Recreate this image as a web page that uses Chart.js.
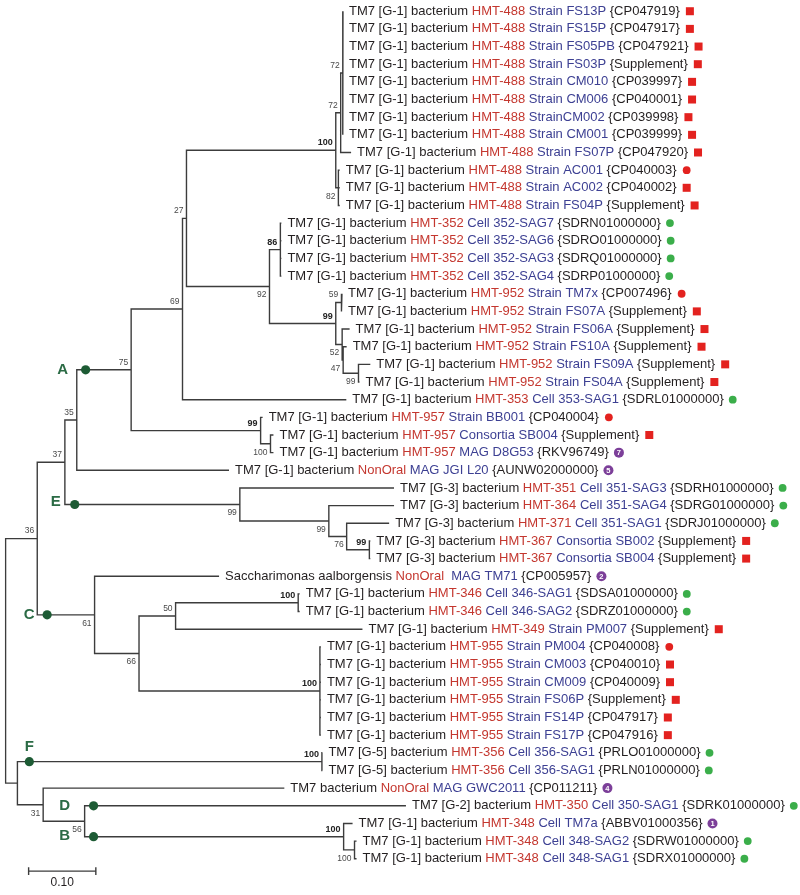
<!DOCTYPE html>
<html lang="en">
<head>
  <meta charset="UTF-8" />
  <title>TM7 phylogeny</title>
  <script src="https://cdn.jsdelivr.net/npm/chart.js"></script>
  <style>
    body { margin: 0; background: #fff; }
    #wrap { width: 800px; height: 895px; position: relative; }
  </style>
</head>
<body>
  <div id="wrap"><canvas id="tree"></canvas></div>

  <script>
    // ---- leaves (top to bottom) ----
    const G1 = 'TM7 [G-1] bacterium', G2 = 'TM7 [G-2] bacterium',
          G3 = 'TM7 [G-3] bacterium', G5 = 'TM7 [G-5] bacterium';

    const leafPrefix = [
      G1, G1, G1, G1, G1, G1, G1, G1, G1, G1, G1, G1,
      G1, G1, G1, G1,
      G1, G1, G1, G1, G1, G1,
      G1, G1, G1, G1, G1,
      G3, G3, G3, G3, G3,
      'Saccharimonas aalborgensis',
      G1, G1, G1,
      G1, G1, G1, G1, G1, G1,
      G5, G5,
      'TM7 bacterium', G2,
      G1, G1, G1
    ];
    const leafHmt = [
      'HMT-488', 'HMT-488', 'HMT-488', 'HMT-488', 'HMT-488', 'HMT-488', 'HMT-488', 'HMT-488', 'HMT-488', 'HMT-488', 'HMT-488', 'HMT-488',
      'HMT-352', 'HMT-352', 'HMT-352', 'HMT-352',
      'HMT-952', 'HMT-952', 'HMT-952', 'HMT-952', 'HMT-952', 'HMT-952',
      'HMT-353', 'HMT-957', 'HMT-957', 'HMT-957', 'NonOral',
      'HMT-351', 'HMT-364', 'HMT-371', 'HMT-367', 'HMT-367',
      'NonOral',
      'HMT-346', 'HMT-346', 'HMT-349',
      'HMT-955', 'HMT-955', 'HMT-955', 'HMT-955', 'HMT-955', 'HMT-955',
      'HMT-356', 'HMT-356',
      'NonOral', 'HMT-350',
      'HMT-348', 'HMT-348', 'HMT-348'
    ];
    const leafStrain = [
      'Strain FS13P', 'Strain FS15P', 'Strain FS05PB', 'Strain FS03P', 'Strain CM010', 'Strain CM006',
      'StrainCM002', 'Strain CM001', 'Strain FS07P', 'Strain AC001', 'Strain AC002', 'Strain FS04P',
      'Cell 352-SAG7', 'Cell 352-SAG6', 'Cell 352-SAG3', 'Cell 352-SAG4',
      'Strain TM7x', 'Strain FS07A', 'Strain FS06A', 'Strain FS10A', 'Strain FS09A', 'Strain FS04A',
      'Cell 353-SAG1', 'Strain BB001', 'Consortia SB004', 'MAG D8G53', 'MAG JGI L20',
      'Cell 351-SAG3', 'Cell 351-SAG4', 'Cell 351-SAG1', 'Consortia SB002', 'Consortia SB004',
      ' MAG TM71',
      'Cell 346-SAG1', 'Cell 346-SAG2', 'Strain PM007',
      'Strain PM004', 'Strain CM003', 'Strain CM009', 'Strain FS06P', 'Strain FS14P', 'Strain FS17P',
      'Cell 356-SAG1', 'Cell 356-SAG1',
      'MAG GWC2011', 'Cell 350-SAG1',
      'Cell TM7a', 'Cell 348-SAG2', 'Cell 348-SAG1'
    ];
    const leafAcc = [
      '{CP047919}', '{CP047917}', '{CP047921}', '{Supplement}', '{CP039997}', '{CP040001}',
      '{CP039998}', '{CP039999}', '{CP047920}', '{CP040003}', '{CP040002}', '{Supplement}',
      '{SDRN01000000}', '{SDRO01000000}', '{SDRQ01000000}', '{SDRP01000000}',
      '{CP007496}', '{Supplement}', '{Supplement}', '{Supplement}', '{Supplement}', '{Supplement}',
      '{SDRL01000000}', '{CP040004}', '{Supplement}', '{RKV96749}', '{AUNW02000000}',
      '{SDRH01000000}', '{SDRG01000000}', '{SDRJ01000000}', '{Supplement}', '{Supplement}',
      '{CP005957}',
      '{SDSA01000000}', '{SDRZ01000000}', '{Supplement}',
      '{CP040008}', '{CP040010}', '{CP040009}', '{Supplement}', '{CP047917}', '{CP047916}',
      '{PRLO01000000}', '{PRLN01000000}',
      '{CP011211}', '{SDRK01000000}',
      '{ABBV01000356}', '{SDRW01000000}', '{SDRX01000000}'
    ];
    // s = red square, r = red dot, g = green dot, digit = numbered purple dot
    const leafMark = [
      's', 's', 's', 's', 's', 's', 's', 's', 's', 'r', 's', 's',
      'g', 'g', 'g', 'g',
      'r', 's', 's', 's', 's', 's',
      'g', 'r', 's', '7', '5',
      'g', 'g', 'g', 's', 's',
      '2',
      'g', 'g', 's',
      'r', 's', 's', 's', 's', 's',
      'g', 'g',
      '4', 'g',
      '1', 'g', 'g'
    ];
    // distance from root to each tip
    const leafDepth = [
      0.5019, 0.5019, 0.5019, 0.5019, 0.5019, 0.5019, 0.5019, 0.5019, 0.5140, 0.4971, 0.4971, 0.4971,
      0.4103, 0.4103, 0.4103, 0.4103,
      0.5004, 0.5004, 0.5118, 0.5074, 0.5426, 0.5265,
      0.5069, 0.3824, 0.3985, 0.3985, 0.3324,
      0.5779, 0.5779, 0.5706, 0.5426, 0.5426,
      0.3176,
      0.4375, 0.4375, 0.5309,
      0.4691, 0.4691, 0.4691, 0.4691, 0.4691, 0.4691,
      0.4713, 0.4713,
      0.4147, 0.5956,
      0.5162, 0.5221, 0.5221
    ];

    // ---- internal nodes: id, depth, children (leaf index or node id), bootstrap ----
    const nodes = [
      ['root', 0.0000, ['n36', 'nF'], ''],
      ['n36', 0.0471, ['n37', 'nC'], '36'],
      ['n37', 0.0882, ['n35', 'nE'], '37'],
      ['n35', 0.1059, ['nA', 26], '35'],
      ['nA', 0.1868, ['n69', 'n957'], '75'],
      ['n69', 0.2632, ['n27', 22], '69'],
      ['n27', 0.2691, ['n488', 'n92'], '27'],
      ['n488', 0.4912, ['n72a', 'n82'], '100'],
      ['n72a', 0.4985, ['n72b', 8], '72'],
      ['n72b', 0.5015, [0, 1, 2, 3, 4, 5, 6, 7], '72'],
      ['n82', 0.4951, [9, 10, 11], '82'],
      ['n92', 0.3926, ['n86', 'n99b'], '92'],
      ['n86', 0.4088, [12, 13, 14, 15], '86'],
      ['n99b', 0.4912, ['n59', 'n52'], '99'],
      ['n59', 0.4993, [16, 17], '59'],
      ['n52', 0.5007, [18, 'n47'], '52'],
      ['n47', 0.5022, [19, 'n99c'], '47'],
      ['n99c', 0.5250, [20, 21], '99'],
      ['n957', 0.3794, [23, 'n100d'], '99'],
      ['n100d', 0.3941, [24, 25], '100'],
      ['nE', 0.3485, [27, 'n99e'], '99'],
      ['n99e', 0.4809, [28, 'n76'], '99'],
      ['n76', 0.5074, [29, 'n99f'], '76'],
      ['n99f', 0.5412, [30, 31], '99'],
      ['nC', 0.1324, [32, 'n66'], '61'],
      ['n66', 0.1985, ['n50', 'n955'], '66'],
      ['n50', 0.2529, ['n346', 35], '50'],
      ['n346', 0.4353, [33, 34], '100'],
      ['n955', 0.4676, [36, 37, 38, 39, 40, 41], '100'],
      ['nF', 0.0176, ['n356', 'n31'], ''],
      ['n356', 0.4706, [42, 43], '100'],
      ['n31', 0.0559, [44, 'n56'], '31'],
      ['n56', 0.1176, [45, 'n348'], '56'],
      ['n348', 0.5029, [46, 'n100s'], '100'],
      ['n100s', 0.5191, [47, 48], '100']
    ];
    const boldSupport = ['n488', 'n86', 'n99b', 'n957', 'n99f', 'n346', 'n955', 'n356', 'n348'];
    const supportBelow = ['n82', 'n92', 'n52', 'n47', 'n99c', 'n100d', 'nE', 'n99e', 'n76', 'nC', 'n66', 'n31', 'n56', 'n100s'];

    // ---- clade marks on branches ----
    const cladeName = ['A', 'E', 'C', 'F', 'D', 'B'];
    const cladeTarget = ['nA', 'nE', 'nC', 'n356', 45, 'n348'];
    const cladeDepth = [0.1191, 0.1029, 0.0618, 0.0353, 0.1309, 0.1309];
    const cladeLetterShift = [[-23, 0], [-19, -3], [-18, 0], [0, -15], [-29, 0], [-29, -1]];

    const scaleLength = 0.10;

    // ---- layout ----
    const ROW = 17.84, TOP = 6.7, PX_PER_UNIT = 680;
    const X_MIN = -1 / PX_PER_UNIT, X_MAX = 799 / PX_PER_UNIT;
    const Y_MIN = -TOP / ROW, Y_MAX = Y_MIN + 895 / ROW;
    const FONT = '"Liberation Sans", Arial, sans-serif';
    const INK = '#231f20', RED = '#c4372f', BLUE = '#3d4093', LINE = '#3c3c3c';

    const nodeMap = {};
    nodes.forEach(n => { nodeMap[n[0]] = { depth: n[1], kids: n[2], support: n[3] }; });

    function yOf(k) {
      if (typeof k === 'number') return k;
      const n = nodeMap[k];
      if (n.y === undefined) n.y = (yOf(n.kids[0]) + yOf(n.kids[n.kids.length - 1])) / 2;
      return n.y;
    }
    function depthOf(k) { return typeof k === 'number' ? leafDepth[k] : nodeMap[k].depth; }

    // branches as polylines split by null points
    const branchPts = [];
    nodes.forEach(([id, d, kids]) => {
      const first = kids[0], last = kids[kids.length - 1];
      branchPts.push({ x: depthOf(first), y: yOf(first) }, { x: d, y: yOf(first) },
                     { x: d, y: yOf(last) }, { x: depthOf(last), y: yOf(last) }, { x: d, y: null });
      kids.slice(1, -1).forEach(k => {
        branchPts.push({ x: d, y: yOf(k) }, { x: depthOf(k), y: yOf(k) }, { x: d, y: null });
      });
    });

    const cladePts = cladeName.map((c, i) => ({ x: cladeDepth[i], y: yOf(cladeTarget[i]) }));

    const barX = 23.3 / PX_PER_UNIT, barY = 48.7, tick = 0.22;
    const scalePts = [
      { x: barX, y: barY - tick }, { x: barX, y: barY + tick }, { x: barX, y: null },
      { x: barX, y: barY }, { x: barX + scaleLength, y: barY }, { x: barX, y: null },
      { x: barX + scaleLength, y: barY - tick }, { x: barX + scaleLength, y: barY + tick }
    ];

    function drawMark(ctx, m, x, y) {
      if (m === 's') {
        ctx.fillStyle = '#e3221f';
        ctx.fillRect(x + 6, y - 4, 8, 8);
      } else if (m === 'r' || m === 'g') {
        ctx.fillStyle = m === 'r' ? '#e3221f' : '#3bae4a';
        ctx.beginPath();
        ctx.arc(x + (m === 'r' ? 10 : 9), y, 3.9, 0, Math.PI * 2);
        ctx.fill();
      } else {
        ctx.fillStyle = '#7c3f99';
        ctx.beginPath();
        ctx.arc(x + 10, y, 5, 0, Math.PI * 2);
        ctx.fill();
        ctx.fillStyle = '#fff';
        ctx.font = 'bold 7.5px ' + FONT;
        ctx.textAlign = 'center';
        ctx.fillText(m, x + 10, y + 0.5);
        ctx.textAlign = 'left';
      }
    }

    const treeText = {
      id: 'treeText',
      afterDatasetsDraw(chart) {
        const { ctx, scales: { x, y } } = chart;
        ctx.save();
        ctx.textBaseline = 'middle';

        // tip labels
        leafPrefix.forEach((pre, i) => {
          let px = x.getPixelForValue(leafDepth[i]) + 6;
          const py = y.getPixelForValue(i);
          ctx.font = '13px ' + FONT;
          ctx.textAlign = 'left';
          [[pre + ' ', INK], [leafHmt[i] + ' ', RED], [leafStrain[i] + ' ', BLUE], [leafAcc[i], INK]].forEach(([t, c]) => {
            ctx.fillStyle = c;
            ctx.fillText(t, px, py);
            px += ctx.measureText(t).width;
          });
          drawMark(ctx, leafMark[i], px, py);
        });

        // bootstrap values
        ctx.textAlign = 'right';
        nodes.forEach(([id, d, kids, s]) => {
          if (!s) return;
          const bold = boldSupport.includes(id);
          ctx.font = (bold ? 'bold 9px ' : '8.5px ') + FONT;
          ctx.fillStyle = bold ? '#222' : '#4a4a4a';
          const dy = supportBelow.includes(id) ? 8.5 : -7.5;
          ctx.fillText(s, x.getPixelForValue(d) - 3, y.getPixelForValue(yOf(id)) + dy);
        });

        // clade letters
        ctx.textAlign = 'center';
        ctx.font = 'bold 15px ' + FONT;
        ctx.fillStyle = '#2b6b45';
        cladeName.forEach((c, i) => {
          const p = cladePts[i];
          ctx.fillText(c, x.getPixelForValue(p.x) + cladeLetterShift[i][0], y.getPixelForValue(p.y) + cladeLetterShift[i][1]);
        });

        // scale bar label
        ctx.font = '12px ' + FONT;
        ctx.fillStyle = INK;
        ctx.fillText(scaleLength.toFixed(2), x.getPixelForValue(barX + scaleLength / 2), y.getPixelForValue(barY) + 12);
        ctx.restore();
      }
    };

    new Chart(document.getElementById('tree'), {
      type: 'scatter',
      data: {
        datasets: [
          { data: cladePts, pointRadius: 4.6, pointBackgroundColor: '#1d5b34', pointBorderWidth: 0, showLine: false },
          { data: scalePts, showLine: true, borderColor: LINE, borderWidth: 1.4, pointRadius: 0, spanGaps: false },
          { data: branchPts, showLine: true, borderColor: LINE, borderWidth: 1.4, pointRadius: 0, spanGaps: false,
            borderJoinStyle: 'miter', borderCapStyle: 'butt' }
        ]
      },
      options: {
        responsive: true,
        maintainAspectRatio: false,
        animation: false,
        events: [],
        layout: { padding: 0 },
        plugins: { legend: { display: false }, tooltip: { enabled: false } },
        scales: {
          x: { type: 'linear', display: false, min: X_MIN, max: X_MAX },
          y: { type: 'linear', display: false, reverse: true, min: Y_MIN, max: Y_MAX }
        }
      },
      plugins: [treeText]
    });
  </script>
</body>
</html>
